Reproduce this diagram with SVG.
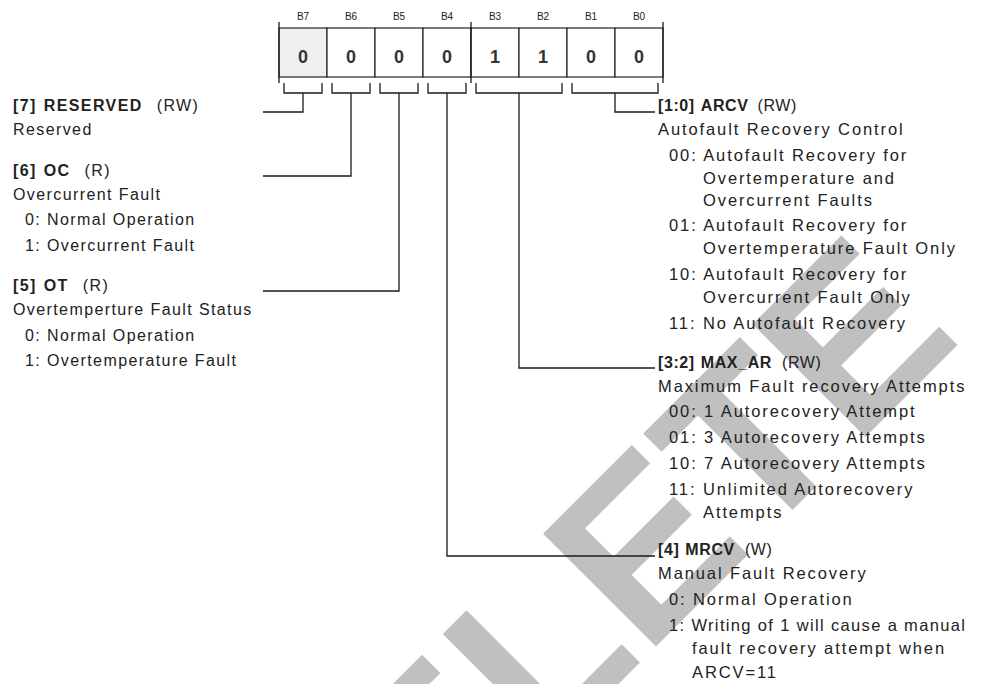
<svg xmlns="http://www.w3.org/2000/svg" width="982" height="684" viewBox="0 0 982 684">
<style>
.t{font-family:"Liberation Sans",Arial,sans-serif;font-size:16px;letter-spacing:1.4px;fill:#222}
.r{font-size:16.5px;letter-spacing:1.9px}
.h{letter-spacing:0.6px}
.b{font-weight:bold}
.bl{font-family:"Liberation Sans",Arial,sans-serif;font-size:10px;fill:#222;text-anchor:middle}
.v{font-family:"Liberation Sans",Arial,sans-serif;font-size:18px;font-weight:bold;fill:#333;text-anchor:middle}
.cell{fill:#fff;stroke:#222;stroke-width:1.2}
.ln{fill:none;stroke:#1a1a1a;stroke-width:1.3}
.wm{font-family:"Liberation Sans",Arial,sans-serif;font-size:232px;font-weight:bold;fill:#c0c0c0}
</style>
<rect width="982" height="684" fill="#fff"/>
<g id="watermark">
<text class="wm" transform="translate(316.8,985.7) rotate(-45)">DELETE</text>
</g>
<g id="register">
<rect class="cell" x="279" y="28" width="48" height="49" style="fill:#efefef"/>
<rect class="cell" x="327" y="28" width="48" height="49"/>
<rect class="cell" x="375" y="28" width="48" height="49"/>
<rect class="cell" x="423" y="28" width="48" height="49"/>
<rect class="cell" x="471" y="28" width="48" height="49"/>
<rect class="cell" x="519" y="28" width="48" height="49"/>
<rect class="cell" x="567" y="28" width="48" height="49"/>
<rect class="cell" x="615" y="28" width="48" height="49"/>
<path class="ln" d="M279,22V83M471,22V83M663,22V83"/>
<text class="bl" x="303" y="20">B7</text>
<text class="bl" x="351" y="20">B6</text>
<text class="bl" x="399" y="20">B5</text>
<text class="bl" x="447" y="20">B4</text>
<text class="bl" x="495" y="20">B3</text>
<text class="bl" x="543" y="20">B2</text>
<text class="bl" x="591" y="20">B1</text>
<text class="bl" x="639" y="20">B0</text>
<text class="v" x="303" y="63">0</text>
<text class="v" x="351" y="63">0</text>
<text class="v" x="399" y="63">0</text>
<text class="v" x="447" y="63">0</text>
<text class="v" x="495" y="63">1</text>
<text class="v" x="543" y="63">1</text>
<text class="v" x="591" y="63">0</text>
<text class="v" x="639" y="63">0</text>
</g>
<g id="connectors">
<path class="ln" d="M284,83V93H322V83M303,93V112H263"/>
<path class="ln" d="M332,83V93H370V83M351,93V176H263"/>
<path class="ln" d="M380,83V93H418V83M399,93V291H263"/>
<path class="ln" d="M428,83V93H466V83M447,93V556H655"/>
<path class="ln" d="M476,83V93H562V83M519,93V368H655"/>
<path class="ln" d="M572,83V93H658V83M615,93V112H655"/>
</g>
<g id="f7">
<text class="t" x="13" y="111"><tspan class="b">[7]</tspan><tspan class="b" dx="7">RESERVED</tspan><tspan dx="14">(RW)</tspan></text>
<text class="t" x="13" y="135">Reserved</text>
</g>
<g id="f6">
<text class="t" x="13" y="176"><tspan class="b">[6]</tspan><tspan class="b" dx="7">OC</tspan><tspan dx="14">(R)</tspan></text>
<text class="t" x="13" y="200">Overcurrent Fault</text>
<text class="t" x="25" y="225">0: Normal Operation</text>
<text class="t" x="25" y="251">1: Overcurrent Fault</text>
</g>
<g id="f5">
<text class="t" x="13" y="291"><tspan class="b">[5]</tspan><tspan class="b" dx="7">OT</tspan><tspan dx="14">(R)</tspan></text>
<text class="t" x="13" y="315">Overtemperture Fault Status</text>
<text class="t" x="25" y="341">0: Normal Operation</text>
<text class="t" x="25" y="366">1: Overtemperature Fault</text>
</g>
<g id="f10">
<text class="t h" x="658" y="111"><tspan class="b">[1:0]</tspan><tspan class="b" dx="6">ARCV</tspan><tspan dx="9">(RW)</tspan></text>
<text class="t r" x="658" y="135">Autofault Recovery Control</text>
<text class="t r" x="669" y="161">00: Autofault Recovery for</text>
<text class="t r" x="703" y="184">Overtemperature and</text>
<text class="t r" x="703" y="206">Overcurrent Faults</text>
<text class="t r" x="669" y="231">01: Autofault Recovery for</text>
<text class="t r" x="703" y="254">Overtemperature Fault Only</text>
<text class="t r" x="669" y="280">10: Autofault Recovery for</text>
<text class="t r" x="703" y="303">Overcurrent Fault Only</text>
<text class="t r" x="669" y="329">11: No Autofault Recovery</text>
</g>
<g id="f32">
<text class="t h" x="658" y="368"><tspan class="b">[3:2]</tspan><tspan class="b" dx="6">MAX_AR</tspan><tspan dx="10">(RW)</tspan></text>
<text class="t r" x="658" y="392">Maximum Fault recovery Attempts</text>
<text class="t r" x="669" y="417">00: 1 Autorecovery Attempt</text>
<text class="t r" x="669" y="443">01: 3 Autorecovery Attempts</text>
<text class="t r" x="669" y="469">10: 7 Autorecovery Attempts</text>
<text class="t r" x="669" y="495">11: Unlimited Autorecovery</text>
<text class="t r" x="703" y="518">Attempts</text>
</g>
<g id="f4">
<text class="t h" x="658" y="555"><tspan class="b">[4]</tspan><tspan class="b" dx="6">MRCV</tspan><tspan dx="10">(W)</tspan></text>
<text class="t r" x="658" y="579">Manual Fault Recovery</text>
<text class="t r" x="669" y="605">0: Normal Operation</text>
<text class="t r" x="669" y="631" style="letter-spacing:1.35px">1: Writing of 1 will cause a manual</text>
<text class="t r" x="692" y="654">fault recovery attempt when</text>
<text class="t r" x="692" y="678">ARCV=11</text>
</g>
</svg>
